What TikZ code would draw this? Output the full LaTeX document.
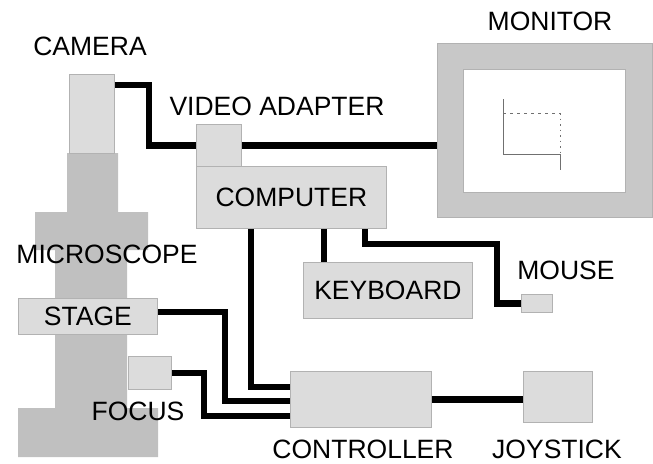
\documentclass[tikz,border=0pt]{standalone}
\usepackage{fontspec}
\setmainfont{Liberation Sans}
\usetikzlibrary{calc,positioning}
\definecolor{Part}{HTML}{DCDCDC}
\definecolor{PartEdge}{HTML}{B2B2B2}
\definecolor{Body}{HTML}{C0C0C0}
\definecolor{Frame}{HTML}{C8C8C8}
\definecolor{Trace}{HTML}{707070}

\begin{document}
\begin{tikzpicture}[x=1pt,y=-1pt,
  part/.style={draw=PartEdge,fill=Part,line width=.8pt,inner sep=0pt,anchor=north west,font=\fontsize{26.5}{30}\selectfont},
  tag/.style={inner sep=0pt,font=\fontsize{26.5}{30}\selectfont},
  cable/.style={line width=6.5pt,black}]
\useasboundingbox (0,0) rectangle (653,463);
% microscope body
\fill[Body] (67,153) -- (118,153) -- (118,212) -- (148,212) -- (148,250) -- (127,250) -- (127,408) -- (158,408) -- (158,457) -- (18,457) -- (18,408) -- (55,408) -- (55,250) -- (35,250) -- (35,212) -- (67,212) -- cycle;
% parts
\node[part,minimum width=45pt,minimum height=79pt] (camera) at (69,74) {};
\node[part,minimum width=45pt,minimum height=42pt] (vidadapt) at (196,124) {};
\node[part,minimum width=190pt,minimum height=62pt] (computer) at (196,166) {COMPUTER};
\node[part,minimum width=169pt,minimum height=56pt] (kbd) at (303,262) {KEYBOARD};
\node[part,minimum width=31pt,minimum height=18pt] (mouse) at (521,294) {};
\node[part,minimum width=139pt,minimum height=36pt] (stage) at (18,298) {STAGE};
\node[part,minimum width=43pt,minimum height=33pt] (focus) at (128,356) {};
\node[part,minimum width=141pt,minimum height=56pt] (ctrl) at (290,371) {};
\node[part,minimum width=69pt,minimum height=51pt] (joy) at (523,371) {};
% monitor
\node[part,fill=Frame,minimum width=215pt,minimum height=174pt] (monitor) at (437,43) {};
\node[part,fill=white,minimum width=162pt,minimum height=123pt] (screen) at (463,69) {};
\draw[Trace,line width=.8pt] (503,99) -- (503,154) -- (560,154) -- (560,170);
\draw[Trace,line width=.6pt,dash pattern=on 3pt off 4pt] (503,113) -- (560,113);
\draw[Trace,line width=.6pt,dash pattern=on 1.5pt off 4pt] (560,113) -- (560,154);
% cables
\draw[cable] ([yshift=-11pt]camera.north east) -- ++(34,0) |- (vidadapt.west);
\draw[cable] (vidadapt.east) -- (vidadapt.east -| monitor.west);
\draw[cable] ([xshift=55pt]computer.south west) |- ([yshift=12.5pt]ctrl.west);
\draw[cable] ([xshift=128pt]computer.south west) -- ([xshift=21pt]kbd.north west);
\draw[cable] ([xshift=169pt]computer.south west) |- ++(132,15) |- (mouse.west);
\draw[cable] ([yshift=4.5pt]stage.east) -- ++(67,0) |- ([yshift=-1.5pt]ctrl.west);
\draw[cable] (focus.east) -- ++(32,0) |- ([yshift=-16.5pt]ctrl.west);
\draw[cable] (ctrl.east) -- (ctrl.east -| joy.west);
% labels
\node[tag] (cameralbl) at (90,46.5) {CAMERA};
\node[tag] (vidlbl) at (277,106) {VIDEO ADAPTER};
\node[tag] (monlbl) at (550,21) {MONITOR};
\node[tag] (scopelbl) at (107,254) {MICROSCOPE};
\node[tag] (mouselbl) at (566,270) {MOUSE};
\node[tag] (focuslbl) at (138,411) {FOCUS};
\node[tag] (ctrllbl) at (363,449) {CONTROLLER};
\node[tag] (joylbl) at (557,449) {JOYSTICK};
\end{tikzpicture}
\end{document}
